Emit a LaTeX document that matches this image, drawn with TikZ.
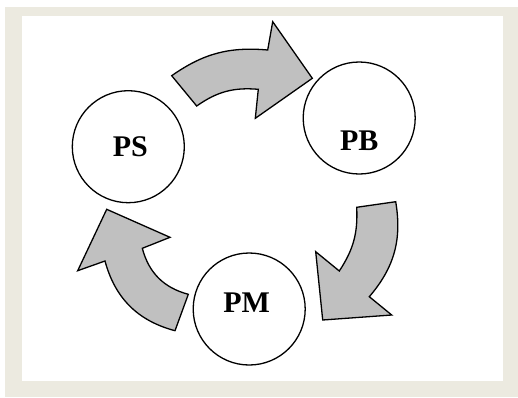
\documentclass[tikz,border=0pt]{standalone}
\usepackage{fontspec}
\setmainfont{Liberation Serif}
\usepackage{tikz}
\definecolor{frame}{RGB}{236,234,224}
\definecolor{arrowgray}{RGB}{192,192,192}
\tikzset{
    stage/.style={circle, draw, fill=white, line width=1.3pt, minimum size=112pt, inner sep=0pt},
    lbl/.style={font=\fontsize{30}{36}\selectfont\bfseries},
    fatarrow/.style={draw, fill=arrowgray, line width=1.3pt, line join=miter}
}

\begin{document}
\begin{tikzpicture}[x=1pt, y=-1pt]
        % Frame
        \useasboundingbox (0,0) rectangle (518,397);
        \fill[frame] (4.5,7) rectangle (518,397);
        \fill[white] (22,16) rectangle (503,381);

        % Curved block arrows
        \draw[fatarrow] (171.7,75.7) to[bend left=20] (267.7,50) -- (272.7,21.7) -- (312.3,78.3)
            -- (255.3,118.3) -- (258.3,89.3) to[bend right=20] (196.7,106) -- cycle; % PS to PB
        \draw[fatarrow] (395.7,201.7) to[bend left=25] (369.3,296.7) -- (391.7,315) -- (322.7,320)
            -- (315.7,251.7) -- (339.3,271) to[bend right=18] (356.7,207.3) -- cycle; % PB to PM
        \draw[fatarrow] (175,330.7) to[bend left=30] (105,261) -- (77.7,270.7) -- (106.7,209.3)
            -- (170,237.3) -- (142.3,248.3) to[bend right=30] (188.3,294.3) -- cycle; % PM to PS

        % Stages
        \node[stage, label={[lbl, xshift=2pt]center:PS}] (ps) at (128.3,146.7) {};
        \node[stage, label={[lbl, yshift=-23pt]center:PB}] (pb) at (359.2,118) {};
        \node[stage, label={[lbl, xshift=-2.5pt, yshift=6pt]center:PM}] (pm) at (249.2,309) {};

    \end{tikzpicture}
\end{document}
